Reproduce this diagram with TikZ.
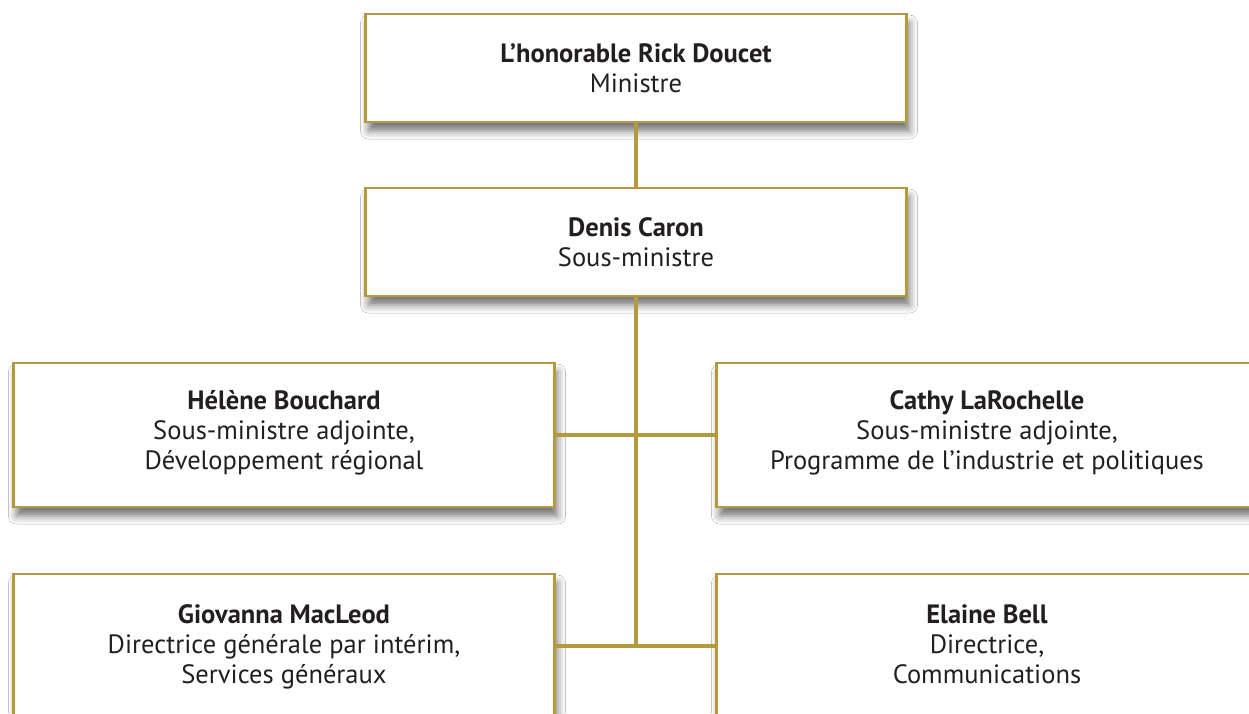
\documentclass[tikz,border=0pt]{standalone}
\usepackage{fontspec}
\setmainfont{PT Sans}
\usetikzlibrary{shadows.blur}
\definecolor{gold}{RGB}{181,153,60}
\definecolor{ink}{RGB}{35,31,32}
% nom en gras, puis le titre (#1 = hauteur de la premiere ligne)
\newcommand\poste[3][28.5pt]{\rule{0pt}{#1}\textbf{#2}\\#3\rule[-9.5pt]{0pt}{9.5pt}}
\tikzset{
	post/.style={rectangle, draw=gold, line width=2.5pt, fill=white, text=ink, align=center,
		minimum width=541pt, font=\fontsize{26.5}{30}\selectfont,
		blur shadow={shadow xshift=3pt, shadow yshift=-9pt, shadow blur radius=8pt, shadow opacity=55}},
	link/.style={draw=gold, line width=4.5pt}
}

\begin{document}
\begin{tikzpicture}[x=1pt, y=-1pt]
	\clip (0, 0) rectangle (1249, 713);
	\fill[white] (0, 0) rectangle (1249, 713);
	\node[post, minimum height=108pt] (ministre) at (636, 68) {\poste{L’honorable Rick Doucet}{Ministre}};
	\node[post, minimum height=108pt] (sousmin) at (636, 242) {\poste{Denis Caron}{Sous-ministre}};
	\node[post, minimum height=144pt] (bouchard) at (284, 435) {\poste[19pt]{Hélène Bouchard}{Sous-ministre adjointe,\\Développement régional}};
	\node[post, minimum height=144pt] (larochelle) at (987, 435) {\poste[19pt]{Cathy LaRochelle}{Sous-ministre adjointe,\\Programme de l’industrie et politiques}};
	\node[post, minimum height=144pt] (macleod) at (284, 646) {\poste[25pt]{Giovanna MacLeod}{Directrice générale par intérim,\\Services généraux}};
	\node[post, minimum height=144pt] (bell) at (987, 646) {\poste[25pt]{Elaine Bell}{Directrice,\\Communications}};
	% liens
	\draw[link] (ministre.south) -- (sousmin.north);
	\draw[link] (sousmin.south) -- (sousmin.south |- macleod.east);
	\draw[link] (bouchard.east) -- (larochelle.west);
	\draw[link] (macleod.east) -- (bell.west);
\end{tikzpicture}
\end{document}
